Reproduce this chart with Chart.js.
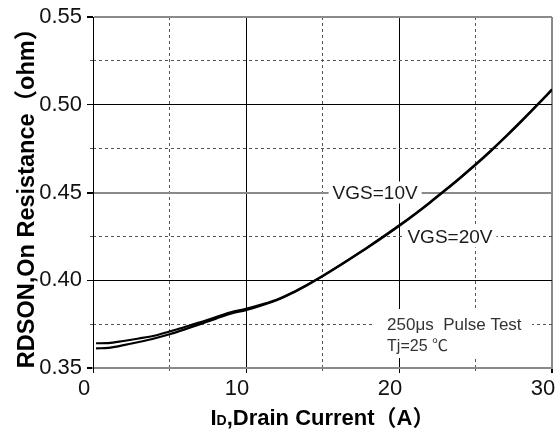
<!DOCTYPE html>
<html>
<head>
<meta charset="utf-8">
<script src="https://cdn.jsdelivr.net/npm/chart.js@4.4.1/dist/chart.umd.min.js"></script>
<style>
  html, body { margin: 0; padding: 0; background: #fff; }
  canvas { display: block; }
</style>
</head>
<body>
<canvas id="chart" width="557" height="433"></canvas>
<script>
// drain current (A)
const current = [0.2, 1, 2, 3, 4, 5, 6, 7, 8, 9, 10, 11, 12, 13, 14, 15, 16, 17, 18, 19, 20, 21, 22, 23, 24, 25, 26, 27, 28, 29, 30];
// on resistance (ohm)
const vgs10 = [0.3641, 0.3642, 0.3654, 0.3668, 0.3684, 0.3708, 0.3734, 0.3760, 0.3789, 0.3818, 0.3837, 0.3861, 0.3889, 0.3929, 0.3975, 0.4025, 0.4079, 0.4135, 0.4192, 0.4251, 0.4312, 0.4376, 0.4443, 0.4513, 0.4585, 0.4660, 0.4739, 0.4822, 0.4908, 0.4997, 0.5088];
const vgs20 = [0.3612, 0.3615, 0.3630, 0.3648, 0.3668, 0.3692, 0.3720, 0.3750, 0.3780, 0.3810, 0.3830, 0.3857, 0.3886, 0.3926, 0.3972, 0.4022, 0.4076, 0.4132, 0.4189, 0.4248, 0.4309, 0.4373, 0.4440, 0.4510, 0.4582, 0.4657, 0.4736, 0.4819, 0.4905, 0.4994, 0.5085];

const xTicks = [0, 10, 20, 30];
const xMinorTicks = [5, 15, 25];
const yTicks = [0.35, 0.40, 0.45, 0.50, 0.55];
const yMinorTicks = [0.375, 0.425, 0.475, 0.525];

const FONT = "'Liberation Sans', Arial, 'Noto Sans CJK SC', sans-serif";
const GRAY = '#8a8a8a';

const setTicks = list => scale => { scale.ticks = list.map(v => ({ value: v })); };
const near = (a, b) => Math.abs(a - b) < 1e-6;

const notes = {
  id: 'notes',
  beforeDatasetsDraw(chart) {
    const { ctx, scales: { x, y } } = chart;
    ctx.save();
    ctx.textBaseline = 'middle';

    // curve labels sitting on grid lines
    ctx.font = `19px ${FONT}`;
    [['VGS=10V', 18.44, 0.45], ['VGS=20V', 23.33, 0.425]].forEach(([t, vx, vy]) => {
      const px = x.getPixelForValue(vx), py = y.getPixelForValue(vy);
      const w = ctx.measureText(t).width;
      ctx.fillStyle = '#fff';
      ctx.fillRect(px - w / 2 - 4, py - 11, w + 8, 22);
      ctx.fillStyle = '#1a1a1a';
      ctx.textAlign = 'center';
      ctx.fillText(t, px, py + 1);
    });

    // test conditions box
    const bx0 = x.getPixelForValue(18.25), bx1 = x.getPixelForValue(28.7);
    const by0 = y.getPixelForValue(0.3836), by1 = y.getPixelForValue(0.3557);
    ctx.fillStyle = '#fff';
    ctx.fillRect(bx0, by0, bx1 - bx0, by1 - by0);
    ctx.fillStyle = '#333';
    ctx.textAlign = 'left';
    ctx.font = `17px ${FONT}`;
    const tx = x.getPixelForValue(19.22);
    ctx.fillText('250μs  Pulse Test', tx, y.getPixelForValue(0.375) + 1);
    ctx.font = `16px ${FONT}`;
    ctx.fillText('Tj=25 ℃', tx, y.getPixelForValue(0.3623));
    ctx.restore();
  },
  afterDraw(chart) {
    const { ctx, chartArea } = chart;
    ctx.save();
    ctx.fillStyle = '#000';
    ctx.textBaseline = 'alphabetic';
    ctx.textAlign = 'left';
    const big = `bold 22px ${FONT}`, small = `bold 14px ${FONT}`;
    const rest = ',Drain Current（A）';
    ctx.font = big;
    const wI = ctx.measureText('I').width, wRest = ctx.measureText(rest).width;
    ctx.font = small;
    const wD = ctx.measureText('D').width;
    let px = (chartArea.left + chartArea.right) / 2 - (wI + wD + wRest) / 2;
    const base = 425;
    ctx.font = big;
    ctx.fillText('I', px, base);
    px += wI;
    ctx.font = small;
    ctx.fillText('D', px, base);
    px += wD;
    ctx.font = big;
    ctx.fillText(rest, px, base);
    ctx.restore();
  }
};

const line = (label, values) => ({
  label,
  data: current.map((c, i) => ({ x: c, y: values[i] })),
  borderColor: '#000',
  borderWidth: 2.2,
  pointRadius: 0,
  fill: false,
  cubicInterpolationMode: 'monotone'
});

new Chart(document.getElementById('chart'), {
  type: 'line',
  data: {
    datasets: [line('VGS=10V', vgs10), line('VGS=20V', vgs20)]
  },
  options: {
    responsive: false,
    animation: false,
    events: [],
    layout: { padding: { left: 0, right: 5, top: 17, bottom: 0 } },
    plugins: { legend: { display: false }, tooltip: { enabled: false } },
    scales: {
      x: {
        type: 'linear', position: 'bottom', weight: 1,
        min: 0, max: 30,
        afterBuildTicks: setTicks(xTicks),
        afterFit: s => { s.height = 65; s.paddingLeft = 0; s.paddingRight = 0; },
        ticks: { color: '#111', font: { family: FONT, size: 22 }, padding: 3, labelOffset: -9, maxRotation: 0 },
        grid: {
          color: c => near(c.tick.value, 30) ? GRAY : '#000',
          lineWidth: c => near(c.tick.value, 30) ? 2 : 1,
          tickLength: 5, tickColor: '#000'
        },
        border: { color: GRAY, width: 2 }
      },
      x2: {
        type: 'linear', position: 'bottom', weight: 0,
        min: 0, max: 30,
        afterBuildTicks: setTicks(xMinorTicks),
        afterFit: s => { s.height = 0; s.paddingLeft = 0; s.paddingRight = 0; },
        ticks: { display: false },
        grid: { color: '#555', lineWidth: 1, tickLength: 5, tickBorderDash: [3, 3] },
        border: { display: false, dash: [3, 3] }
      },
      y: {
        type: 'linear', position: 'left', weight: 1,
        min: 0.35, max: 0.55,
        afterBuildTicks: setTicks(yTicks),
        afterFit: s => { s.width = 93; s.paddingTop = 0; s.paddingBottom = 0; },
        ticks: { color: '#111', font: { family: FONT, size: 22 }, padding: 5, callback: v => v.toFixed(2) },
        grid: {
          color: c => [0.35, 0.45, 0.55].some(v => near(c.tick.value, v)) ? GRAY : '#000',
          lineWidth: c => [0.35, 0.45, 0.55].some(v => near(c.tick.value, v)) ? 2 : 1,
          tickLength: 6, tickColor: '#000'
        },
        border: { color: '#000', width: 1 },
        title: {
          display: true,
          text: 'RDSON,On Resistance（ohm）',
          color: '#000',
          font: { family: FONT, size: 23.5, weight: 'bold' },
          padding: { top: 13, bottom: 0 }
        }
      },
      y2: {
        type: 'linear', position: 'left', weight: 0,
        min: 0.35, max: 0.55,
        afterBuildTicks: setTicks(yMinorTicks),
        afterFit: s => { s.width = 0; s.paddingTop = 0; s.paddingBottom = 0; },
        ticks: { display: false },
        grid: { color: '#555', lineWidth: 1, tickLength: 3, tickBorderDash: [3, 3] },
        border: { display: false, dash: [3, 3] }
      }
    }
  },
  plugins: [notes]
});
</script>
</body>
</html>
